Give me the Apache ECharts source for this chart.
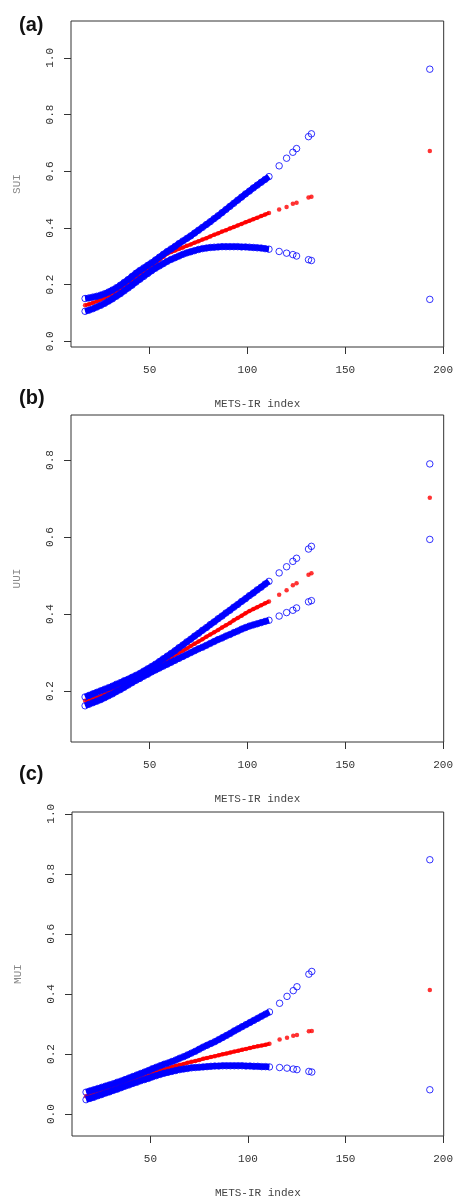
<!DOCTYPE html>
<html>
<head>
<meta charset="utf-8">
<script src="https://cdn.jsdelivr.net/npm/echarts@6/dist/echarts.min.js"></script>
<style>html,body{margin:0;padding:0;background:#fff}#c{width:456px;height:1200px}</style>
</head>
<body>
<div id="c"></div>
<script>
// METS-IR index values (shared by all three panels)
const metsIR = [17,19,21,23,25,27,29,31,33,35,37,39,41,43,45,47,49,51,53,55,57,59,61,63,65,67,69,71,73,75,77,79,81,83,85,87,89,91,93,95,97,99,101,103,105,107,109,111,
  116.2,120,123.2,125.1,131.2,132.7,193.2];
const denseCount = 48;
const xTicks = [50,100,150,200];

// (a) SUI
const suiUpper = [.151,.153,.156,.159,.163,.168,.174,.181,.189,.198,.208,.218,.229,.240,.250,.259,.268,.277,.287,.297,.307,.317,.326,.335,.345,.354,.363,.372,.382,.392,.402,.412,.422,.433,.443,.454,.465,.476,.487,.498,.509,.520,.530,.541,.551,.561,.571,.581,
  .619,.646,.667,.680,.722,.732,.960];
const suiFit = [.127,.131,.136,.141,.147,.153,.160,.168,.176,.185,.195,.205,.215,.225,.235,.245,.255,.265,.276,.287,.298,.309,.315,.320,.326,.331,.337,.342,.348,.353,.359,.364,.370,.376,.381,.387,.392,.398,.403,.409,.414,.420,.425,.431,.436,.442,.447,.453,
  .465,.474,.485,.489,.507,.510,.671];
const suiLower = [.106,.110,.115,.121,.127,.134,.142,.150,.159,.168,.178,.188,.198,.209,.219,.229,.239,.249,.258,.266,.274,.282,.289,.295,.301,.307,.312,.316,.320,.324,.327,.329,.331,.332,.333,.334,.334,.334,.334,.334,.333,.333,.332,.331,.330,.329,.327,.325,
  .317,.311,.306,.301,.288,.285,.148];
const suiTicks = [0,0.2,0.4,0.6,0.8,1.0];

// (b) UUI
const uuiUpper = [.185,.189,.193,.197,.201,.205,.209,.213,.218,.222,.227,.231,.236,.241,.246,.252,.258,.264,.270,.277,.284,.291,.298,.305,.313,.320,.328,.335,.343,.350,.358,.365,.373,.380,.388,.395,.403,.410,.418,.425,.433,.440,.448,.455,.463,.470,.478,.485,
  .507,.523,.537,.545,.569,.576,.790];
const uuiFit = [.175,.177,.180,.184,.188,.192,.197,.202,.207,.212,.218,.223,.229,.235,.240,.246,.252,.258,.264,.270,.276,.282,.288,.294,.300,.305,.311,.317,.323,.329,.335,.341,.347,.353,.359,.365,.371,.377,.384,.390,.396,.402,.408,.413,.418,.423,.428,.433,
  .450,.462,.475,.480,.502,.506,.702];
const uuiLower = [.162,.166,.170,.174,.178,.183,.188,.193,.199,.204,.210,.216,.222,.228,.233,.239,.244,.250,.255,.260,.265,.270,.275,.280,.285,.290,.295,.300,.305,.310,.314,.319,.324,.329,.334,.338,.343,.347,.352,.356,.361,.365,.369,.372,.375,.378,.381,.384,
  .395,.404,.410,.416,.432,.435,.594];
const uuiTicks = [0.2,0.4,0.6,0.8];

// (c) MUI
const muiUpper = [.073,.077,.081,.085,.089,.093,.097,.101,.106,.110,.115,.120,.125,.130,.135,.140,.145,.151,.156,.161,.166,.170,.175,.180,.186,.191,.197,.203,.209,.216,.223,.229,.235,.241,.248,.255,.262,.269,.277,.284,.291,.298,.305,.312,.319,.326,.333,.340,
  .369,.392,.411,.424,.466,.475,.847];
const muiFit = [.059,.063,.067,.072,.077,.081,.086,.091,.095,.100,.105,.109,.114,.118,.123,.128,.132,.137,.141,.145,.149,.153,.157,.161,.164,.167,.171,.174,.177,.180,.184,.187,.190,.193,.196,.199,.202,.205,.208,.211,.214,.217,.220,.223,.226,.228,.231,.234,
  .248,.254,.261,.263,.276,.277,.413];
const muiLower = [.048,.052,.056,.061,.065,.070,.074,.079,.083,.088,.093,.097,.102,.106,.111,.115,.119,.124,.128,.132,.136,.139,.142,.145,.148,.150,.152,.154,.155,.156,.157,.158,.159,.160,.160,.161,.161,.161,.161,.161,.161,.160,.160,.159,.159,.158,.158,.157,
  .155,.153,.150,.148,.142,.140,.081];
const muiTicks = [0,0.2,0.4,0.6,0.8,1.0];

const panels = [
  {label:'(a)', yName:'SUI', upper:suiUpper, fit:suiFit, lower:suiLower, ticks:suiTicks, ymin:-0.02, ymax:1.13,
   grid:{left:71, top:21, right:10, height:326}, labelTop:10},
  {label:'(b)', yName:'UUI', upper:uuiUpper, fit:uuiFit, lower:uuiLower, ticks:uuiTicks, ymin:0.068, ymax:0.917,
   grid:{left:71, top:415, right:10, height:327}, labelTop:383},
  {label:'(c)', yName:'MUI', upper:muiUpper, fit:muiFit, lower:muiLower, ticks:muiTicks, ymin:-0.073, ymax:1.006,
   grid:{left:72, top:812, right:9, height:327}, labelTop:759}
];

const BLUE = '#0000ff', RED = '#ff0000';
const FONT = 'Liberation Mono';
const pairs = (ys, n) => metsIR.slice(0, n).map((x, i) => [x, ys[i]]);

const grids = [], xAxes = [], yAxes = [], series = [], titles = [];
panels.forEach((p, i) => {
  grids.push(Object.assign({show:true, borderColor:'#333', borderWidth:1, backgroundColor:'transparent'}, p.grid));
  xAxes.push({
    type:'value', gridIndex:i, min:9.8, max:200.3,
    axisLine:{show:false, onZero:false},
    axisTick:{show:true, inside:false, length:7, customValues:xTicks, lineStyle:{color:'#333'}},
    axisLabel:{customValues:xTicks, fontFamily:FONT, fontSize:11, color:'#333', margin:18},
    splitLine:{show:false},
    name:'METS-IR index', nameLocation:'middle', nameGap:52,
    nameTextStyle:{fontFamily:FONT, fontSize:11, color:'#444'}
  });
  yAxes.push({
    type:'value', gridIndex:i, min:p.ymin, max:p.ymax,
    axisLine:{show:false, onZero:false},
    axisTick:{show:true, inside:false, length:7, customValues:p.ticks, lineStyle:{color:'#333'}},
    axisLabel:{customValues:p.ticks, rotate:90, fontFamily:FONT, fontSize:11, color:'#333', margin:15,
      formatter: v => v.toFixed(1)},
    splitLine:{show:false},
    name:p.yName, nameLocation:'middle', nameGap:48, nameRotate:90,
    nameTextStyle:{fontFamily:FONT, fontSize:11, color:'#888'}
  });
  titles.push({text:p.label, left:14, top:p.labelTop,
    textStyle:{fontFamily:'Liberation Sans', fontWeight:'bold', fontSize:20, color:'#111'}});

  const n = metsIR.length;
  // fitted values (red)
  series.push({type:'line', xAxisIndex:i, yAxisIndex:i, data:pairs(p.fit, denseCount), showSymbol:false,
    lineStyle:{color:RED, width:3.5}, silent:true, z:1, animation:false});
  series.push({type:'scatter', xAxisIndex:i, yAxisIndex:i, data:pairs(p.fit, n), symbol:'circle', symbolSize:4.5,
    itemStyle:{color:RED}, silent:true, z:2, animation:false});
  // confidence limits (blue open circles)
  [p.upper, p.lower].forEach(arr => {
    series.push({type:'line', xAxisIndex:i, yAxisIndex:i, data:pairs(arr, denseCount), showSymbol:false,
      lineStyle:{color:BLUE, width:6}, silent:true, z:3, animation:false});
    series.push({type:'scatter', xAxisIndex:i, yAxisIndex:i, data:pairs(arr, n), symbol:'circle', symbolSize:6.5,
      itemStyle:{color:'rgba(0,0,0,0)', borderColor:BLUE, borderWidth:1}, silent:true, z:4, animation:false});
  });
});

const chart = echarts.init(document.getElementById('c'), null, {renderer:'canvas'});
chart.setOption({backgroundColor:'#fff', animation:false, title:titles, grid:grids, xAxis:xAxes, yAxis:yAxes, series:series});
</script>
</body>
</html>
